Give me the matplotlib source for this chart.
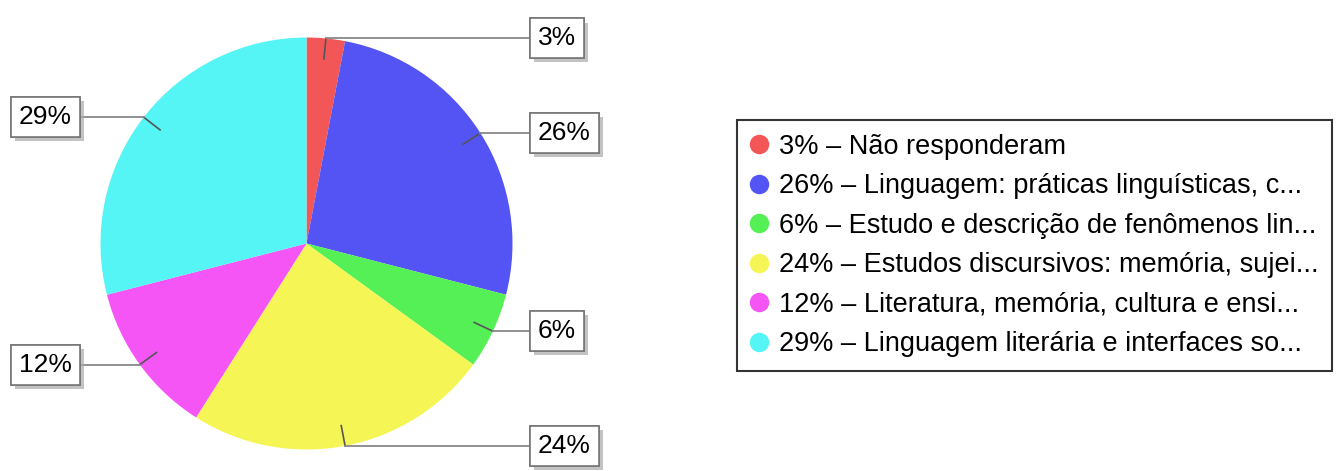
import numpy as np
import matplotlib.pyplot as plt
import matplotlib.patheffects as pe
from matplotlib.lines import Line2D

# slice shares (%) and legend names, in drawing order (clockwise from top)
shares = [3, 26, 6, 24, 12, 29]
names = ['Não responderam',
         'Linguagem: práticas linguísticas, c...',
         'Estudo e descrição de fenômenos lin...',
         'Estudos discursivos: memória, sujei...',
         'Literatura, memória, cultura e ensi...',
         'Linguagem literária e interfaces so...']
colors = ['#f25656', '#5454f5', '#55f055', '#f5f555', '#f555f5', '#55f5f5']

plt.rcParams['font.family'] = ['Liberation Sans', 'DejaVu Sans']

W, H = 1344, 471
fig = plt.figure(figsize=(W / 100, H / 100), dpi=100)
ax = fig.add_axes([0, 0, 1, 1])

cx, cy, r = 306.5, H - 243.5, 206
wedges, _ = ax.pie(shares, colors=colors, startangle=90, counterclock=False,
                   center=(cx, cy), radius=r, frame=True,
                   wedgeprops=dict(linewidth=0))
ax.set_xlim(0, W)
ax.set_ylim(0, H)
ax.axis('off')

# labels with leader lines, JFreeChart style
for w, s in zip(wedges, shares):
    a = np.deg2rad((w.theta1 + w.theta2) / 2)
    ex, ey = cx + r * np.cos(a), cy + r * np.sin(a)
    ix, iy = cx + 0.9 * r * np.cos(a), cy + 0.9 * r * np.sin(a)
    right = np.cos(a) > 0
    bx = 532 if right else 78
    ax.plot([ix, ex], [iy, ey], color='#555555', lw=1.2)
    ax.plot([ex, bx], [ey, ey], color='#888888', lw=1.3)
    t = ax.text(bx + (6 if right else -6), ey, f'{s}%',
                ha='left' if right else 'right', va='center', fontsize=19,
                bbox=dict(boxstyle='square,pad=0.3', fc='white',
                          ec='#777777', lw=1.2))
    t.get_bbox_patch().set_path_effects([
        pe.withSimplePatchShadow(offset=(3, -3), shadow_rgbFace='#aaaaaa', alpha=0.7),
        pe.Normal()])

handles = [Line2D([], [], ls='none', marker='o', markersize=13,
                  markerfacecolor=c, markeredgecolor=c)
           for c in colors]
leg = fig.legend(handles, [f'{s}% – {n}' for s, n in zip(shares, names)],
                 loc='upper left', bbox_to_anchor=(737 / W, (H - 120) / H),
                 fontsize=19.5, frameon=True, fancybox=False, edgecolor='black',
                 borderaxespad=0, borderpad=0.5, labelspacing=0.5,
                 handlelength=0.6, handletextpad=0.45)
leg.get_frame().set_linewidth(1.5)

fig.savefig('out.png', dpi=100)
